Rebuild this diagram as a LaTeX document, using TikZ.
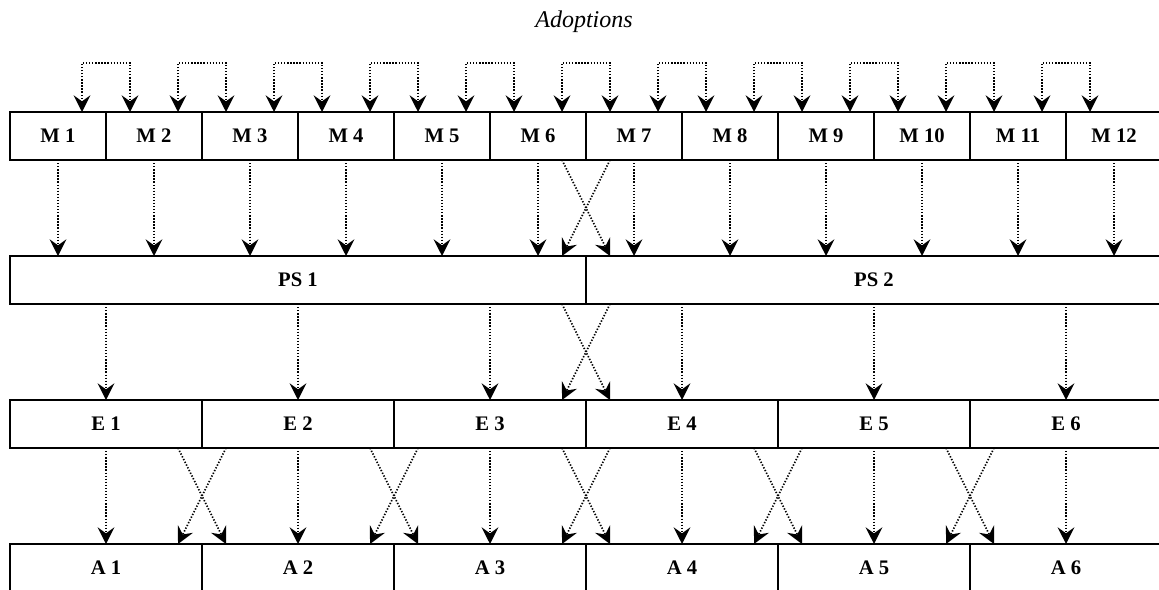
\documentclass[tikz,border=0pt]{standalone}
\usepackage{fontspec}
\setmainfont{Liberation Serif}
\usetikzlibrary{arrows.meta, positioning}

\begin{document}
\begin{tikzpicture}[
    x=0.75pt, y=0.75pt,
    node distance=0pt,
    >={Stealth[length=12.5pt, width=12.5pt, inset=4.5pt]},
    cell/.style={rectangle, draw, line width=1.5pt, outer sep=0pt, inner sep=0pt, minimum height=36pt, font=\fontsize{15.5}{18}\selectfont\bfseries},
    mbox/.style={cell, minimum width=72pt},
    psbox/.style={cell, minimum width=432pt},
    ebox/.style={cell, minimum width=144pt},
    link/.style={->, line width=1.3pt, dash pattern=on 1pt off 1.3pt}
]
    \useasboundingbox (0,0) rectangle (1159,-589);

    % Title
    \node[font=\fontsize{18}{22}\selectfont\itshape] (title) at (584,-22) {Adoptions};

    % Month row
    \node[mbox, anchor=north west] (m1) at (10,-112) {M 1};
    \foreach \i [remember=\i as \j (initially 1)] in {2,...,12}
        \node[mbox, right=of m\j] (m\i) {M \i};

    % Period row
    \node[psbox, anchor=north west] (ps1) at (10,-256) {PS 1};
    \node[psbox, right=of ps1] (ps2) {PS 2};

    % E row and A row
    \node[ebox, anchor=north west] (e1) at (10,-400) {E 1};
    \node[ebox, anchor=north west] (a1) at (10,-544) {A 1};
    \foreach \i [remember=\i as \j (initially 1)] in {2,...,6} {
        \node[ebox, right=of e\j] (e\i) {E \i};
        \node[ebox, right=of a\j] (a\i) {A \i};
    }

    % Loops between neighbouring months
    \foreach \i [count=\j from 2] in {1,...,11}
        \draw[link, <->] ([xshift=18pt]m\i.north) -- ++(0,49) -| ([xshift=-18pt]m\j.north);

    % Months to periods
    \foreach \i in {1,...,12}
        \draw[link] (m\i.south) -- (m\i.south |- ps1.north);
    \draw[link] ([xshift=-18pt]m6.south east) -- ([xshift=18pt]ps2.north west);
    \draw[link] ([xshift=18pt]m7.south west) -- ([xshift=-18pt]ps1.north east);

    % Periods to E row
    \foreach \i in {1,2,3}
        \draw[link] (ps1.south -| e\i.north) -- (e\i.north);
    \foreach \i in {4,5,6}
        \draw[link] (ps2.south -| e\i.north) -- (e\i.north);
    \draw[link] ([xshift=-18pt]ps1.south east) -- ([xshift=18pt]e4.north west);
    \draw[link] ([xshift=18pt]ps2.south west) -- ([xshift=-18pt]e3.north east);

    % E row to A row
    \foreach \i in {1,...,6}
        \draw[link] (e\i.south) -- (a\i.north);
    \foreach \i [count=\j from 2] in {1,...,5} {
        \draw[link] ([xshift=-18pt]e\i.south east) -- ([xshift=18pt]a\j.north west);
        \draw[link] ([xshift=18pt]e\j.south west) -- ([xshift=-18pt]a\i.north east);
    }
\end{tikzpicture}
\end{document}
